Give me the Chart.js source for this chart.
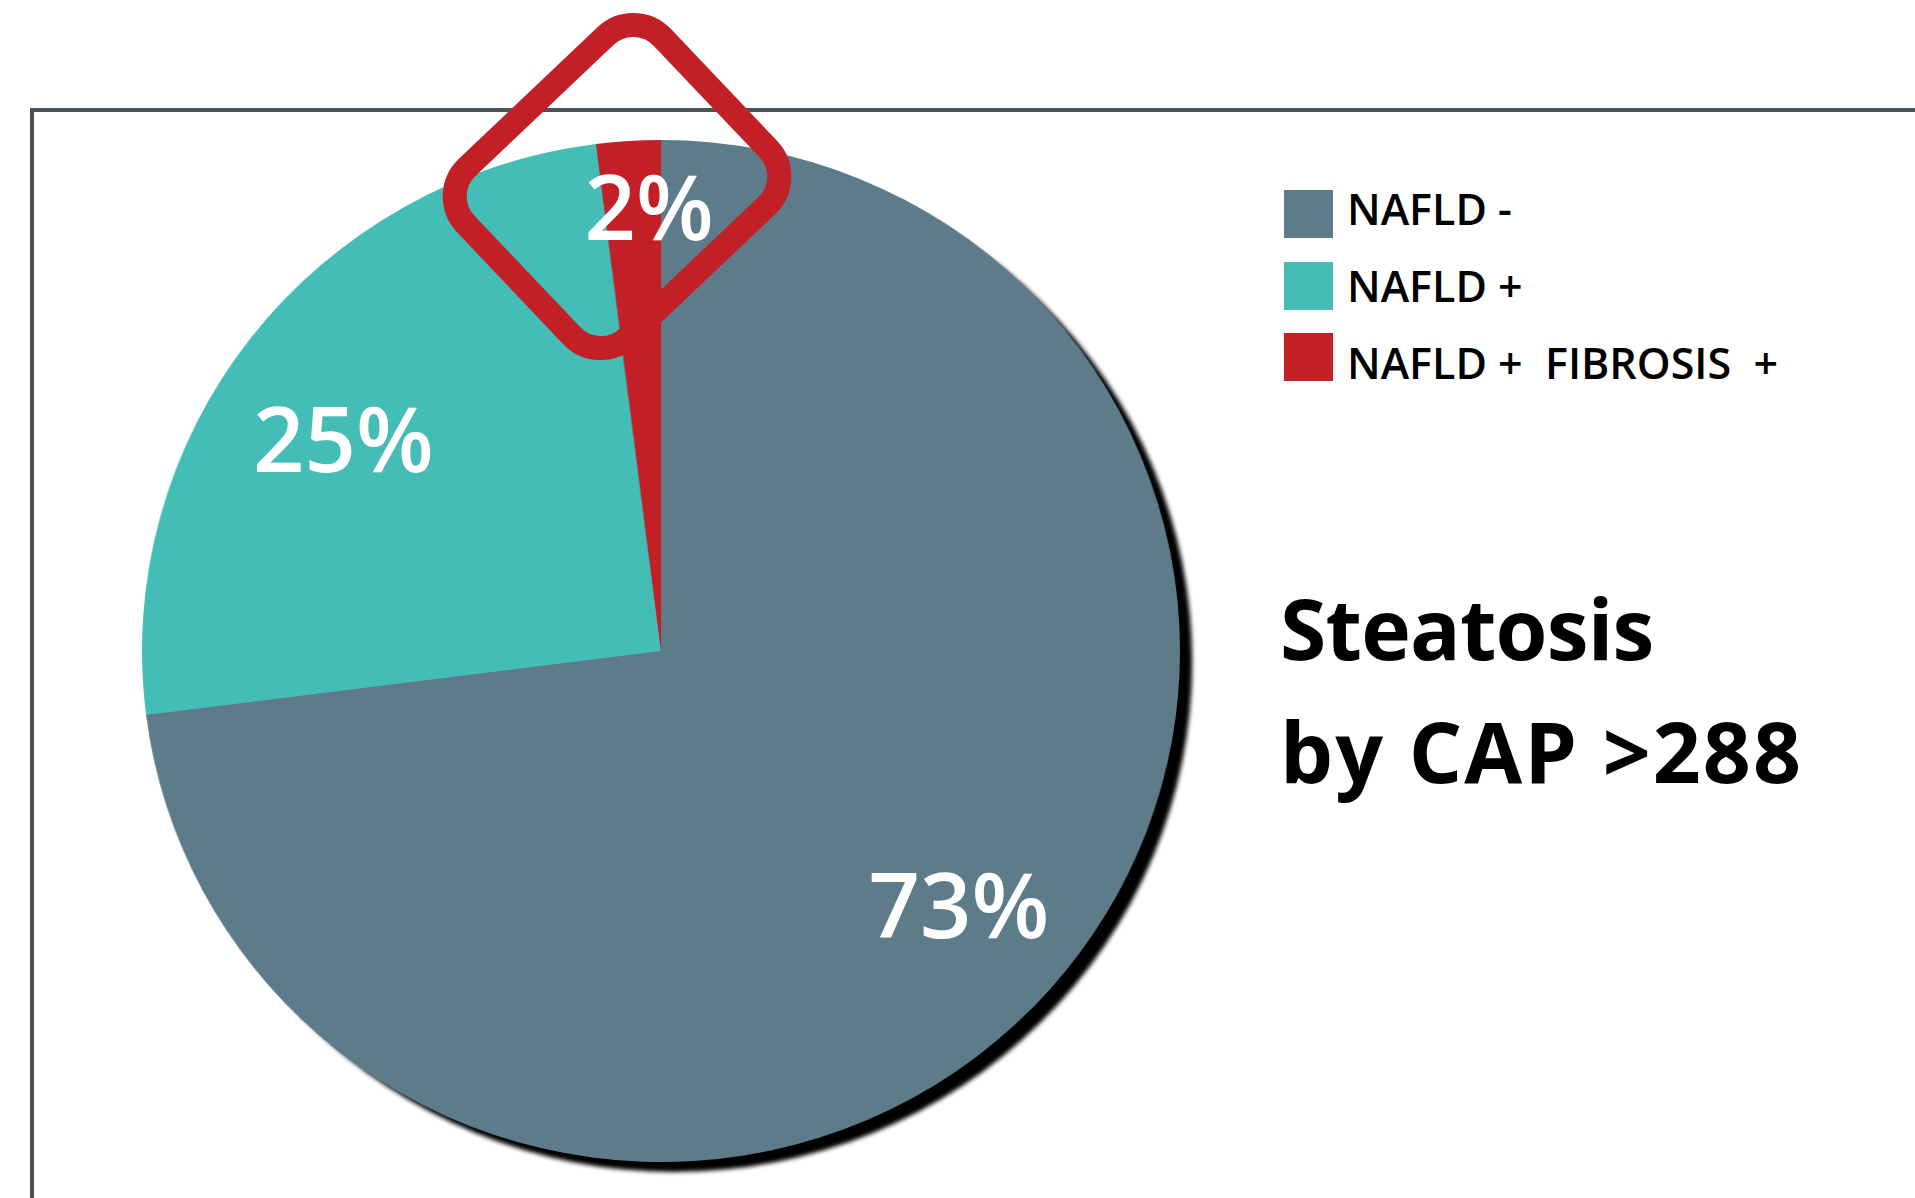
<!DOCTYPE html>
<html>
<head>
<meta charset="utf-8">
<script src="https://cdn.jsdelivr.net/npm/chart.js@4.4.1/dist/chart.umd.min.js"></script>
<style>
html,body{margin:0;padding:0;background:#fff;width:1915px;height:1198px;overflow:hidden;position:relative;font-family:"Open Sans",sans-serif;}
#frame{position:absolute;left:30px;top:108px;width:1900px;height:1200px;border-left:4px solid #4b5159;border-top:4px solid #4b5159;}
#wrap{position:absolute;left:150px;top:140px;width:1062px;height:1062px;}
#cwrap{position:absolute;left:0;top:0;width:1062px;height:1062px;transform-origin:511px 511px;}
#labels{position:absolute;left:0;top:0;width:0;height:0;}
.lbl{position:absolute;color:#fff;font-weight:600;font-size:90px;line-height:1;transform:translate(-50%,-53%);white-space:nowrap;}
.sw{position:absolute;width:49px;height:48px;}
.tx{position:absolute;left:1347px;font-size:43px;font-weight:600;white-space:pre;line-height:1;color:#000;}
#title{position:absolute;left:1280px;top:566px;font-size:84px;font-weight:700;line-height:123px;color:#000;white-space:nowrap;}
#title .l1{letter-spacing:-0.8px;}
#title .l2{letter-spacing:2px;}
#diamond{position:absolute;left:488px;top:39px;width:258px;height:295px;box-sizing:border-box;border:24px solid #c22026;border-radius:52px;transform:rotate(46.5deg);}
</style>
</head>
<body>
<div id="frame"></div>
<div id="wrap"><div id="cwrap"><canvas id="c"></canvas></div><div id="labels"></div></div>
<div id="legend"></div>
<div id="title"><span class="l1">Steatosis</span><br><span class="l2">by CAP &gt;288</span></div>
<div id="diamond"></div>
<script>
const categories = ['NAFLD -', 'NAFLD +', 'NAFLD +  FIBROSIS  +'];
const values = [73, 25, 2];
const colors = ['#5e7b8a', '#44bdb6', '#c22026'];
// label placement: fraction of radius and small angular shift (degrees)
const labelRadius = [0.761, 0.738, 0.868];
const labelShift = [-0.35, -3.8, 2.1];
const pieStretchX = 1.0157;

document.getElementById('cwrap').style.transform = 'scaleX(' + pieStretchX + ')';

// legend
const legend = document.getElementById('legend');
categories.forEach((c, i) => {
  const sw = document.createElement('div');
  sw.className = 'sw';
  sw.style.left = '1284px';
  sw.style.top = (190 + 71.5 * i) + 'px';
  sw.style.background = colors[i];
  legend.appendChild(sw);
  const tx = document.createElement('div');
  tx.className = 'tx';
  tx.style.top = (187 + 77 * i) + 'px';
  tx.textContent = c;
  legend.appendChild(tx);
});

const shadowPlugin = {
  id: 'pieShadow',
  beforeDatasetsDraw(chart) {
    const arc = chart.getDatasetMeta(0).data[0];
    const p = arc.getProps(['x', 'y', 'outerRadius'], true);
    const ctx = chart.ctx;
    ctx.save();
    ctx.shadowColor = '#000';
    ctx.shadowOffsetX = 13;
    ctx.shadowOffsetY = 11;
    ctx.shadowBlur = 4;
    ctx.beginPath();
    ctx.arc(p.x, p.y, p.outerRadius - 1, 0, Math.PI * 2);
    ctx.fillStyle = colors[0];
    ctx.fill();
    ctx.restore();
  }
};

const labelPlugin = {
  id: 'sliceLabels',
  afterRender(chart) {
    const meta = chart.getDatasetMeta(0);
    const box = document.getElementById('labels');
    box.innerHTML = '';
    meta.data.forEach((arc, i) => {
      const p = arc.getProps(['x', 'y', 'startAngle', 'endAngle', 'outerRadius'], true);
      const mid = (p.startAngle + p.endAngle) / 2 + labelShift[i] * Math.PI / 180;
      const r = p.outerRadius * labelRadius[i];
      const el = document.createElement('div');
      el.className = 'lbl';
      el.textContent = values[i] + '%';
      el.style.left = (p.x + Math.cos(mid) * r * pieStretchX) + 'px';
      el.style.top = (p.y + Math.sin(mid) * r) + 'px';
      box.appendChild(el);
    });
  }
};

new Chart(document.getElementById('c'), {
  type: 'pie',
  data: {
    labels: categories,
    datasets: [{
      data: values,
      backgroundColor: colors,
      borderWidth: 0
    }]
  },
  options: {
    responsive: true,
    maintainAspectRatio: false,
    animation: false,
    layout: { padding: { left: 0, top: 0, right: 40, bottom: 40 } },
    plugins: {
      legend: { display: false },
      tooltip: { enabled: false }
    }
  },
  plugins: [shadowPlugin, labelPlugin]
});
</script>
</body>
</html>
